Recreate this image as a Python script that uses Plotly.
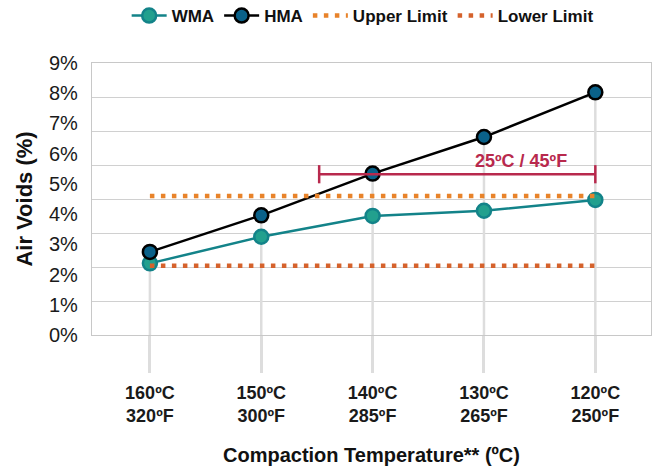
import plotly.graph_objects as go

# ---- data ----
temps_c = ["160ºC", "150ºC", "140ºC", "130ºC", "120ºC"]
temps_f = ["320ºF", "300ºF", "285ºF", "265ºF", "250ºF"]
wma = [2.37, 3.25, 3.94, 4.11, 4.47]
hma = [2.75, 3.96, 5.34, 6.55, 8.03]
upper_limit = [4.6, 4.6, 4.6, 4.6, 4.6]
lower_limit = [2.29, 2.29, 2.29, 2.29, 2.29]
bracket_x = [1.52, 4.0]
bracket_y = [5.32, 5.32]
bracket_label = "25ºC / 45ºF"
y_tick_vals = [0, 1, 2, 3, 4, 5, 6, 7, 8, 9]
y_tick_text = [f"{v}%" for v in y_tick_vals]
grid_vals = [0, 1, 2, 3, 4, 5, 6, 7, 8]

x = list(range(len(temps_c)))
tick_text = [f"{c}<br>{f}" for c, f in zip(temps_c, temps_f)]

TEAL_LINE = "#138389"
TEAL_FILL = "#22A08E"
HMA_FILL = "#0A6189"
UPPER = "#E8832A"
LOWER = "#D5622C"
CRIMSON = "#B8294D"
FONT = "Liberation Sans, Arial, sans-serif"

fig = go.Figure()

# drop lines from HMA points to the axis
drop_x, drop_y = [], []
for xi, h in zip(x, hma):
    drop_x += [xi, xi, None]
    drop_y += [0, h, None]
fig.add_trace(go.Scatter(x=drop_x, y=drop_y, mode="lines",
                         line=dict(color="#dddddd", width=2.5),
                         showlegend=False, hoverinfo="skip"))

# invisible trace to activate grid axis
fig.add_trace(go.Scatter(x=[0], y=[0], yaxis="y2", mode="markers",
                         marker=dict(opacity=0), showlegend=False, hoverinfo="skip"))

fig.add_trace(go.Scatter(x=x, y=wma, name="WMA", mode="lines+markers",
                         line=dict(color=TEAL_LINE, width=2.5),
                         marker=dict(size=14, color=TEAL_FILL,
                                     line=dict(color=TEAL_LINE, width=2.5))))
fig.add_trace(go.Scatter(x=x, y=hma, name="HMA", mode="lines+markers",
                         line=dict(color="black", width=2.5),
                         marker=dict(size=14, color=HMA_FILL,
                                     line=dict(color="black", width=2.5))))
fig.add_trace(go.Scatter(x=x, y=upper_limit, name="Upper Limit", mode="lines",
                         line=dict(color=UPPER, width=4.5, dash="4.5px,6.5px")))
fig.add_trace(go.Scatter(x=x, y=lower_limit, name="Lower Limit", mode="lines",
                         line=dict(color=LOWER, width=4.5, dash="4.5px,6.5px")))

# bracket
fig.add_trace(go.Scatter(x=bracket_x, y=bracket_y, mode="lines+markers",
                         line=dict(color=CRIMSON, width=2.5),
                         marker=dict(symbol="line-ns-open", size=13,
                                     line=dict(color=CRIMSON, width=2.5)),
                         showlegend=False, hoverinfo="skip"))

fig.add_annotation(x=(bracket_x[0] + bracket_x[1]) / 2 + 0.57, y=bracket_y[0],
                   text=f"<b>{bracket_label}</b>", showarrow=False,
                   yanchor="bottom", yshift=1,
                   font=dict(family=FONT, size=18, color=CRIMSON))

fig.update_layout(
    width=663, height=466,
    margin=dict(l=92, r=12, t=63, b=131, autoexpand=False),
    plot_bgcolor="white", paper_bgcolor="white",
    font=dict(family=FONT, color="#1a1a1a"),
    showlegend=True,
    legend=dict(orientation="h", x=0.062, xanchor="left", y=1 - 16 / 466,
                yref="container", yanchor="middle", itemwidth=35,
                font=dict(family=FONT, size=17, color="#111111", weight="bold"),
                bgcolor="rgba(0,0,0,0)"),
    xaxis=dict(range=[-0.52, 4.5], tickvals=x, ticktext=tick_text,
               tickfont=dict(family=FONT, size=18, color="#1a1a1a", weight="bold"),
               ticks="outside", ticklen=37, tickwidth=2.5, tickcolor="#dddddd",
               ticklabelstandoff=4, automargin=False,
               showgrid=False, zeroline=False,
               showline=True, linecolor="#c8c8c8", linewidth=1.3, mirror=True,
               title=dict(text="<b>Compaction Temperature** (ºC)</b>",
                          font=dict(family=FONT, size=20, color="#111111"),
                          standoff=22)),
    yaxis=dict(range=[0, 9], tickvals=y_tick_vals, ticktext=y_tick_text,
               tickfont=dict(family=FONT, size=20, color="#1a1a1a"),
               showgrid=False, zeroline=False, ticklabelstandoff=9, automargin=False,
               showline=True, linecolor="#c8c8c8", linewidth=1.3, mirror=True,
               title=dict(text="<b>Air Voids (%)</b>",
                          font=dict(family=FONT, size=22, color="#111111"),
                          standoff=10)),
    yaxis2=dict(range=[0, 8], tickvals=grid_vals, overlaying="y", side="left",
                showticklabels=False, showgrid=True, gridcolor="#d0d0d0",
                gridwidth=1.3, zeroline=False, showline=False, automargin=False),
)

fig.write_html("out.html", config={"displayModeBar": False},
               post_script="document.body.style.margin='0';")
